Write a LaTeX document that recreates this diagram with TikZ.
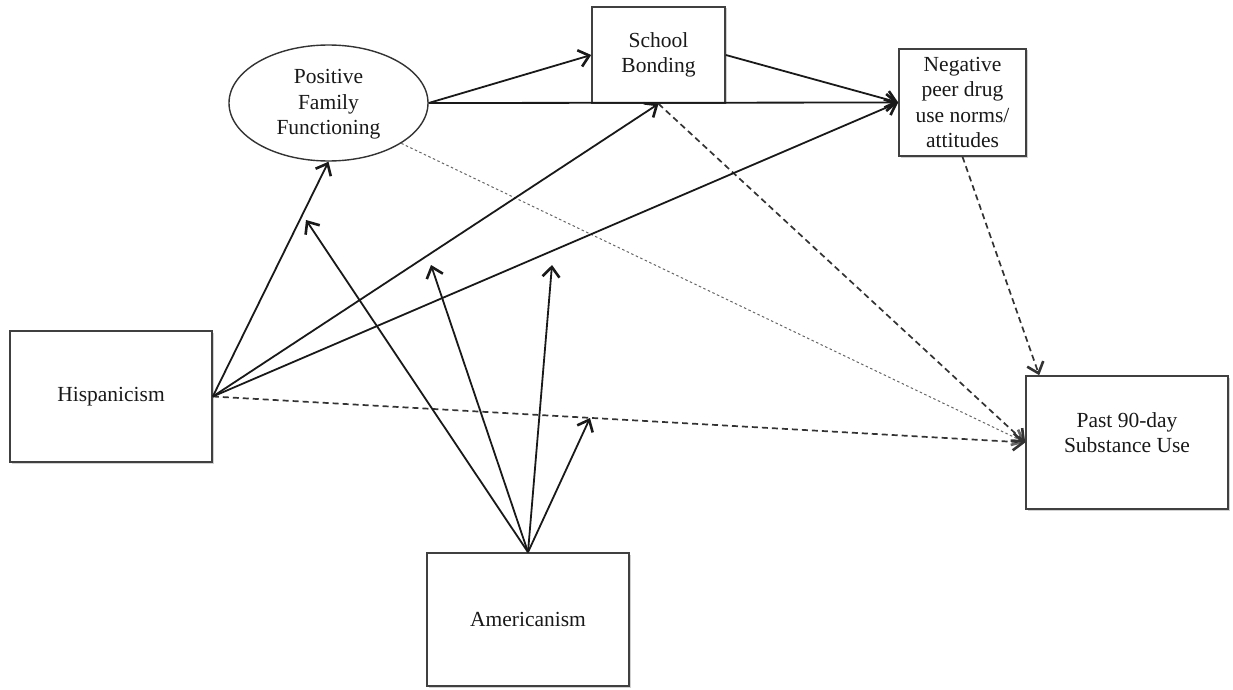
\documentclass[tikz,border=0pt]{standalone}
\usepackage{fontspec}
\setmainfont{Liberation Serif}
\usetikzlibrary{arrows.meta,shapes.geometric,shadows}
\begin{document}
\begin{tikzpicture}[x=1pt,y=-1pt,
  every node/.style={font=\fontsize{21.5}{25.5}\selectfont, text=black!90, align=center},
  boxnode/.style={draw=black!75, line width=1.6pt, fill=white, inner sep=0pt,
    drop shadow={shadow xshift=1.5pt, shadow yshift=-1.5pt, fill=black!40, opacity=0.45}},
  ovalnode/.style={ellipse, draw=black!80, line width=1.4pt, fill=white, inner sep=0pt},
  tip/.style={-{Straight Barb[length=10pt,width=17pt,line width=2.6pt]}},
  solidarrow/.style={tip, line width=1.8pt, draw=black!90},
  dasharrow/.style={tip, line width=1.7pt, draw=black!80, dash pattern=on 6pt off 4pt},
  dotarrow/.style={tip, line width=1pt, draw=black!60, dash pattern=on 2.5pt off 2.5pt}
]
\useasboundingbox (0,0) rectangle (1233,690);

% nodes
\node[ovalnode, minimum width=199pt, minimum height=116pt] (pff) at (328.5,103) {};
\node (pfftxt) at (328.5,104.5) {Positive\\Family\\Functioning};
\node[boxnode, minimum width=133pt, minimum height=96pt] (school) at (658.5,55) {School\\Bonding};
\node[boxnode, minimum width=127pt, minimum height=107pt] (neg) at (962.5,102.5) {Negative\\peer drug\\use norms/\\attitudes};
\node[boxnode, minimum width=202pt, minimum height=131pt] (hisp) at (111,396.5) {Hispanicism};
\node[boxnode, minimum width=202pt, minimum height=133pt] (past) at (1127,442.5) {};
\node (pasttxt) at (1127,432.5) {Past 90-day\\Substance Use};
\node[boxnode, minimum width=202pt, minimum height=133pt] (amer) at (528,619.5) {Americanism};

% moderation targets
\coordinate (m1) at (306,220);
\coordinate (m2) at (431,265);
\coordinate (m3) at (552,265);
\coordinate (m4) at (590,418);
\coordinate (pasttop) at ([xshift=14pt]past.north west);

% dotted / dashed paths
\draw[dotarrow] (pff.-29) -- (past.west);
\draw[dasharrow] (hisp.east) -- (past.west);
\draw[dasharrow] (school.south) -- (past.west);
\draw[dasharrow] (neg.south) -- (pasttop);

% solid paths
\draw[solidarrow] (hisp.east) -- (pff.south);
\draw[solidarrow] (hisp.east) -- (school.south);
\draw[solidarrow] (hisp.east) -- (neg.west);
\draw[solidarrow] (pff.east) -- (school.west);
\draw[solidarrow] (pff.east) -- (neg.west);
\draw[solidarrow] (school.east) -- (neg.west);

% moderation arrows
\draw[solidarrow] (amer.north) -- (m1);
\draw[solidarrow] (amer.north) -- (m2);
\draw[solidarrow] (amer.north) -- (m3);
\draw[solidarrow] (amer.north) -- (m4);
\end{tikzpicture}
\end{document}
